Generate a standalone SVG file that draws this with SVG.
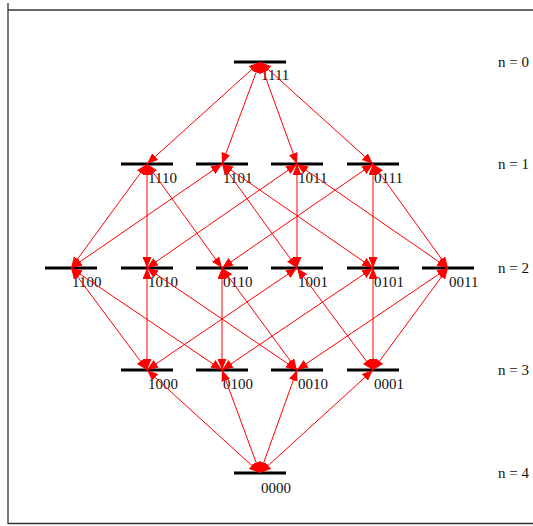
<svg xmlns="http://www.w3.org/2000/svg" width="533" height="526" viewBox="0 0 533 526">
  <style>
    .bar { stroke: #000; stroke-width: 3; }
    .lbl { font-family: "Liberation Serif", "Times New Roman", serif; font-size: 15px; fill: #111; }
    .edge { stroke: #ff0000; stroke-width: 1; fill: none; marker-start: url(#head); marker-end: url(#head); }
    .frame { stroke: #333; stroke-width: 1.3; fill: none; }
  </style>
  <defs>
    <marker id="head" viewBox="0 0 11 9" refX="11" refY="4.5" markerWidth="11" markerHeight="9" markerUnits="userSpaceOnUse" orient="auto-start-reverse">
      <path d="M0,0 L11,4.5 L0,9 z" fill="#ff0000"/>
    </marker>
  </defs>

  <rect width="533" height="526" fill="#fff"/>

  <!-- frame -->
  <g id="frame">
    <line class="frame" x1="8" y1="3" x2="8" y2="524"/>
    <line class="frame" x1="8" y1="10" x2="533" y2="10"/>
    <line class="frame" x1="8" y1="523.5" x2="533" y2="523.5"/>
  </g>

  <!-- level captions -->
  <g id="levels" class="lbl">
    <text x="498" y="67">n = 0</text>
    <text x="498" y="169">n = 1</text>
    <text x="498" y="273">n = 2</text>
    <text x="498" y="375">n = 3</text>
    <text x="498" y="478">n = 4</text>
  </g>

  <!-- states -->
  <g id="n1111"><line class="bar" x1="234" y1="62" x2="286" y2="62"/><text class="lbl" x="261" y="80">1111</text></g>

  <g id="n1110"><line class="bar" x1="121" y1="164" x2="173" y2="164"/><text class="lbl" x="148" y="183">1110</text></g>
  <g id="n1101"><line class="bar" x1="196" y1="164" x2="248" y2="164"/><text class="lbl" x="223" y="183">1101</text></g>
  <g id="n1011"><line class="bar" x1="271" y1="164" x2="323" y2="164"/><text class="lbl" x="298" y="183">1011</text></g>
  <g id="n0111"><line class="bar" x1="347" y1="164" x2="399" y2="164"/><text class="lbl" x="374" y="183">0111</text></g>

  <g id="n1100"><line class="bar" x1="45" y1="268" x2="97" y2="268"/><text class="lbl" x="72" y="287">1100</text></g>
  <g id="n1010"><line class="bar" x1="121" y1="268" x2="173" y2="268"/><text class="lbl" x="148" y="287">1010</text></g>
  <g id="n0110"><line class="bar" x1="196" y1="268" x2="248" y2="268"/><text class="lbl" x="223" y="287">0110</text></g>
  <g id="n1001"><line class="bar" x1="271" y1="268" x2="323" y2="268"/><text class="lbl" x="298" y="287">1001</text></g>
  <g id="n0101"><line class="bar" x1="347" y1="268" x2="399" y2="268"/><text class="lbl" x="374" y="287">0101</text></g>
  <g id="n0011"><line class="bar" x1="422" y1="268" x2="474" y2="268"/><text class="lbl" x="449" y="287">0011</text></g>

  <g id="n1000"><line class="bar" x1="121" y1="370" x2="173" y2="370"/><text class="lbl" x="148" y="389">1000</text></g>
  <g id="n0100"><line class="bar" x1="196" y1="370" x2="248" y2="370"/><text class="lbl" x="223" y="389">0100</text></g>
  <g id="n0010"><line class="bar" x1="271" y1="370" x2="323" y2="370"/><text class="lbl" x="298" y="389">0010</text></g>
  <g id="n0001"><line class="bar" x1="347" y1="370" x2="399" y2="370"/><text class="lbl" x="374" y="389">0001</text></g>

  <g id="n0000"><line class="bar" x1="234" y1="473" x2="286" y2="473"/><text class="lbl" x="261" y="493">0000</text></g>

  <!-- transitions (double-headed) -->
  <g id="connectors">
    <!-- 1111 to level 1 -->
    <line class="edge" x1="260" y1="62" x2="147" y2="164"/>
    <line class="edge" x1="260" y1="62" x2="222" y2="164"/>
    <line class="edge" x1="260" y1="62" x2="297" y2="164"/>
    <line class="edge" x1="260" y1="62" x2="373" y2="164"/>
    <!-- level 1 to level 2 -->
    <line class="edge" x1="147" y1="164" x2="71" y2="268"/>
    <line class="edge" x1="147" y1="164" x2="147" y2="268"/>
    <line class="edge" x1="147" y1="164" x2="222" y2="268"/>
    <line class="edge" x1="222" y1="164" x2="71" y2="268"/>
    <line class="edge" x1="222" y1="164" x2="297" y2="268"/>
    <line class="edge" x1="222" y1="164" x2="373" y2="268"/>
    <line class="edge" x1="297" y1="164" x2="147" y2="268"/>
    <line class="edge" x1="297" y1="164" x2="297" y2="268"/>
    <line class="edge" x1="297" y1="164" x2="448" y2="268"/>
    <line class="edge" x1="373" y1="164" x2="222" y2="268"/>
    <line class="edge" x1="373" y1="164" x2="373" y2="268"/>
    <line class="edge" x1="373" y1="164" x2="448" y2="268"/>
    <!-- level 2 to level 3 -->
    <line class="edge" x1="71" y1="268" x2="147" y2="370"/>
    <line class="edge" x1="71" y1="268" x2="222" y2="370"/>
    <line class="edge" x1="147" y1="268" x2="147" y2="370"/>
    <line class="edge" x1="147" y1="268" x2="297" y2="370"/>
    <line class="edge" x1="222" y1="268" x2="222" y2="370"/>
    <line class="edge" x1="222" y1="268" x2="297" y2="370"/>
    <line class="edge" x1="297" y1="268" x2="147" y2="370"/>
    <line class="edge" x1="297" y1="268" x2="373" y2="370"/>
    <line class="edge" x1="373" y1="268" x2="222" y2="370"/>
    <line class="edge" x1="373" y1="268" x2="373" y2="370"/>
    <line class="edge" x1="448" y1="268" x2="297" y2="370"/>
    <line class="edge" x1="448" y1="268" x2="373" y2="370"/>
    <!-- level 3 to 0000 -->
    <line class="edge" x1="147" y1="370" x2="260" y2="473"/>
    <line class="edge" x1="222" y1="370" x2="260" y2="473"/>
    <line class="edge" x1="297" y1="370" x2="260" y2="473"/>
    <line class="edge" x1="373" y1="370" x2="260" y2="473"/>
  </g>
</svg>
